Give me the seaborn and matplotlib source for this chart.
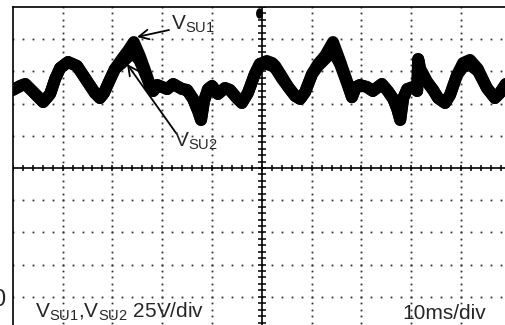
import numpy as np
import pandas as pd
import matplotlib
matplotlib.use("Agg")
import matplotlib.pyplot as plt
import seaborn as sns

# ---- data (time in ms, voltage in V; 10 ms/div, 25 V/div, ground at -4 div) ----
t_ms = [0.0, 1.5, 2.5, 3.9, 4.9, 6.1, 7.5, 8.5, 9.5, 11.1, 12.9, 14.9, 16.5, 17.5,
        18.3, 19.1, 20.5, 21.9, 23.1, 24.3, 25.5, 26.6, 27.6, 28.2, 29.0, 30.0,
        31.0, 32.2, 34.0, 35.0, 36.2, 37.2, 37.8, 38.4, 39.2, 40.0, 41.2, 42.6,
        43.6, 45.0, 46.0, 47.2, 48.6, 49.6, 51.0, 52.1, 52.7, 54.1, 55.3, 56.7,
        57.7, 58.7, 60.1, 61.3, 62.7, 64.3, 65.7, 67.1, 68.1, 68.9, 69.7, 71.1,
        72.3, 74.1, 75.3, 76.4, 77.2, 77.8, 78.4, 79.2, 80.4, 81.2, 81.4, 81.8,
        83.2, 84.4, 85.4, 86.8, 87.8, 89.2, 90.4, 91.8, 93.4, 95.2, 96.8, 97.8, 99.0]
v_su1 = [160.6, 163.7, 165.2, 159.8, 155.9, 151.2, 157.5, 169.1, 177.6, 182.3, 179.2,
         167.5, 158.2, 154.3, 158.2, 165.2, 176.9, 184.6, 190.8, 197.8, 187.0, 175.3,
         163.7, 159.8, 164.4, 162.9, 161.3, 165.2, 161.3, 160.6, 153.6, 144.3, 137.3,
         152.0, 161.3, 163.7, 157.5, 162.1, 160.6, 154.3, 150.5, 158.2, 173.0, 180.8,
         183.1, 181.5, 179.2, 170.6, 162.9, 155.9, 153.6, 159.0, 173.0, 180.8, 187.0,
         197.8, 183.1, 167.5, 155.0, 162.9, 164.4, 162.9, 159.8, 165.2, 159.8, 153.6,
         145.8, 137.3, 154.3, 161.3, 162.9, 159.8, 184.6, 176.9, 166.8, 160.6, 154.3,
         150.5, 156.7, 172.2, 181.5, 183.9, 176.9, 162.1, 154.3, 158.2, 165.2]
v_su2 = [160.6, 163.7, 165.2, 159.8, 155.9, 151.2, 157.5, 169.1, 177.6, 182.3, 179.2,
         167.5, 158.2, 154.3, 158.2, 165.2, 176.9, 181.5, 186.2, 189.3, 183.1, 173.0,
         163.7, 159.8, 164.4, 162.9, 161.3, 165.2, 161.3, 160.6, 153.6, 144.3, 137.3,
         152.0, 161.3, 163.7, 157.5, 162.1, 160.6, 154.3, 150.5, 158.2, 173.0, 180.8,
         180.8, 179.2, 177.6, 169.1, 162.9, 155.9, 153.6, 159.0, 173.0, 179.2, 184.6,
         190.8, 180.8, 166.0, 155.0, 162.9, 164.4, 162.9, 159.8, 165.2, 159.8, 153.6,
         145.8, 137.3, 154.3, 161.3, 162.9, 159.8, 184.6, 176.9, 166.8, 160.6, 154.3,
         150.5, 156.7, 172.2, 178.4, 180.0, 175.3, 162.1, 154.3, 158.2, 165.2]
div_t = [0, 10, 20, 30, 40, 50, 60, 70, 80, 90, 100]
div_v = [-25, 0, 25, 50, 75, 100, 125, 150, 175, 200, 225]

sns.set_style("white")
plt.rcParams["font.family"] = ["Liberation Sans", "DejaVu Sans"]
plt.rcParams["mathtext.fontset"] = "custom"
plt.rcParams["mathtext.rm"] = "Liberation Sans"
plt.rcParams["mathtext.it"] = "Liberation Sans"

W, H = 506, 325
fig = plt.figure(figsize=(W / 100, H / 100), dpi=100)
x0, ytop, pw, ph = 12.8, 7.0, 498.0, 322.0
ax = fig.add_axes([x0 / W, 1 - (ytop + ph) / H, pw / W, ph / H])
ax.set_xlim(div_t[0], div_t[-1])
ax.set_ylim(div_v[0], div_v[-1])
ax.set_xticks([]); ax.set_yticks([])
for s in ["top", "left"]:
    ax.spines[s].set_visible(True)
    ax.spines[s].set_color("black")
    ax.spines[s].set_linewidth(1.2)
for s in ["right", "bottom"]:
    ax.spines[s].set_visible(False)

def px(x, y):
    return ((x - x0) / pw * 100.0, div_v[0] + (ytop + ph - y) / ph * 250.0)

# dotted graticule
minor_t = np.arange(div_t[0], div_t[-1] + 0.01, 2.0)
minor_v = np.arange(div_v[0], div_v[-1] + 0.01, 5.0)
for gt in div_t[1:-1]:
    if gt == 50:
        continue
    ax.plot([gt] * len(minor_v), minor_v, ls="none", marker="s", ms=1.3,
            mew=0, color="#333333", zorder=1)
for gv in div_v[1:-1]:
    if gv == 100:
        continue
    ax.plot(minor_t, [gv] * len(minor_t), ls="none", marker="s", ms=1.3,
            mew=0, color="#333333", zorder=1)

# centre cross with ticks
ax.axhline(100, color="black", lw=1.2, zorder=2)
ax.axvline(50, color="black", lw=1.2, zorder=2)
ax.plot(minor_t, [100] * len(minor_t), ls="none", marker="|", ms=5, mew=1.1,
        color="black", zorder=2)
ax.plot([50] * len(minor_v), minor_v, ls="none", marker="_", ms=5.5, mew=1.1,
        color="black", zorder=2)
tx, ty = px(259.5, 12.5)
ellipse = [(np.cos(a) * 0.6, np.sin(a)) for a in np.linspace(0, 2 * np.pi, 30)]
ax.plot([tx], [ty], marker=ellipse, ms=6.5, color="black", zorder=3,
        clip_on=False)

# traces
df = pd.DataFrame({"t": t_ms, "v1": v_su1, "v2": v_su2})
for col in ["v2", "v1"]:
    sns.lineplot(data=df, x="t", y=col, ax=ax, color="black", lw=8.6,
                 estimator=None, sort=False, solid_capstyle="round",
                 solid_joinstyle="round", zorder=4)
ax.set_xlabel(""); ax.set_ylabel("")

# annotations
fs = 15
arrow = dict(arrowstyle="->,head_length=0.7,head_width=0.35", lw=1.3,
             color="black", shrinkA=0, shrinkB=0)
ax.annotate("", xy=px(137, 37), xytext=px(169, 30), arrowprops=arrow, zorder=6)
ax.annotate("", xy=px(127, 64), xytext=px(176, 133), arrowprops=arrow, zorder=6)
ax.text(*px(171, 30), r"V$_{\mathrm{SU1}}$", fontsize=fs, ha="left",
        va="baseline", zorder=6)
ax.text(*px(174, 147), r"V$_{\mathrm{SU2}}$", fontsize=fs, ha="left",
        va="baseline", zorder=6)
ax.text(*px(35, 318), r"V$_{\mathrm{SU1}}$,V$_{\mathrm{SU2}}$ 25V/div",
        fontsize=fs, ha="left", va="baseline", zorder=6)
ax.text(*px(402, 319), "10ms/div", fontsize=fs, ha="left", va="baseline",
        zorder=6)
fig.text(5.5 / W, 1 - 306 / H, "0", fontsize=17, ha="right", va="baseline")

fig.savefig("out.png", dpi=100, facecolor="white")
